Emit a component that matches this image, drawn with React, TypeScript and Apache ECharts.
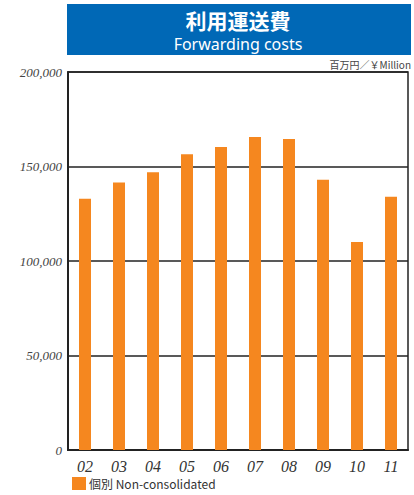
import React, { useEffect, useRef } from "react";
import * as echarts from "echarts";

const categories = ["02", "03", "04", "05", "06", "07", "08", "09", "10", "11"];
const values = [133000, 141500, 147000, 156500, 160300, 165600, 164600, 143000, 110000, 134000];
const yTicks = [0, 50000, 100000, 150000, 200000];
const titleJa = "利用運送費";
const titleEn = "Forwarding costs";
const unitText = "百万円／￥Million";
const seriesName = "個別 Non-consolidated";

export default function App() {
  const ref = useRef<HTMLDivElement>(null);
  useEffect(() => {
    if (!ref.current) return;
    const chart = echarts.init(ref.current, null, { renderer: "svg" });
    chart.setOption({
      animation: false,
      graphic: [
        { type: "rect", shape: { x: 67, y: 4, width: 344, height: 51 }, style: { fill: "#0068b6" } },
        {
          type: "text", x: 238, y: 20,
          style: { text: titleJa, fill: "#fff", font: "bold 21px 'Noto Sans CJK JP'", align: "center", verticalAlign: "middle", lineHeight: 22 },
        },
        {
          type: "text", x: 238, y: 44,
          style: { text: titleEn, fill: "#fff", font: "16px 'Noto Sans'", align: "center", verticalAlign: "middle", lineHeight: 16 },
        },
        {
          type: "text", x: 411, y: 64,
          style: { text: unitText, fill: "#444", font: "10px 'Noto Sans CJK JP'", align: "right", verticalAlign: "middle" },
        },
      ],
      legend: {
        left: 72, top: 477, padding: 0, itemWidth: 14, itemHeight: 13, itemGap: 4,
        textStyle: { fontFamily: "'Noto Sans CJK JP'", fontSize: 12, color: "#333", padding: [0, 0, 0, -2] },
        data: [{ name: seriesName, icon: "rect" }],
      },
      grid: { left: 68, right: 6, top: 72, bottom: 45, show: true, borderColor: "#222", borderWidth: 1.5 },
      xAxis: {
        type: "category", data: categories,
        axisLine: { lineStyle: { color: "#222", width: 2 } },
        axisTick: { inside: true, length: 6, lineStyle: { color: "#222", width: 1.5 } },
        axisLabel: { fontFamily: "'Liberation Serif'", fontStyle: "italic", fontSize: 16, color: "#333", margin: 8 },
      },
      yAxis: {
        type: "value", min: 0, max: 200000, interval: 50000,
        axisLine: { show: true, lineStyle: { color: "#222", width: 2 } },
        axisTick: { show: false },
        splitLine: { lineStyle: { color: "#222", width: 1.5 } },
        axisLabel: {
          fontFamily: "'Liberation Serif'", fontStyle: "italic", fontSize: 13, color: "#444", margin: 6,
          formatter: (v: number) => (yTicks.includes(v) ? v.toLocaleString("en-US") : ""),
        },
      },
      series: [
        {
          name: seriesName, type: "bar", data: values, barWidth: 12,
          itemStyle: { color: "#f5871f" },
        },
      ],
    });
    return () => chart.dispose();
  }, []);
  return <div ref={ref} style={{ width: 414, height: 495, position: "absolute", left: 0, top: 0 }} />;
}
